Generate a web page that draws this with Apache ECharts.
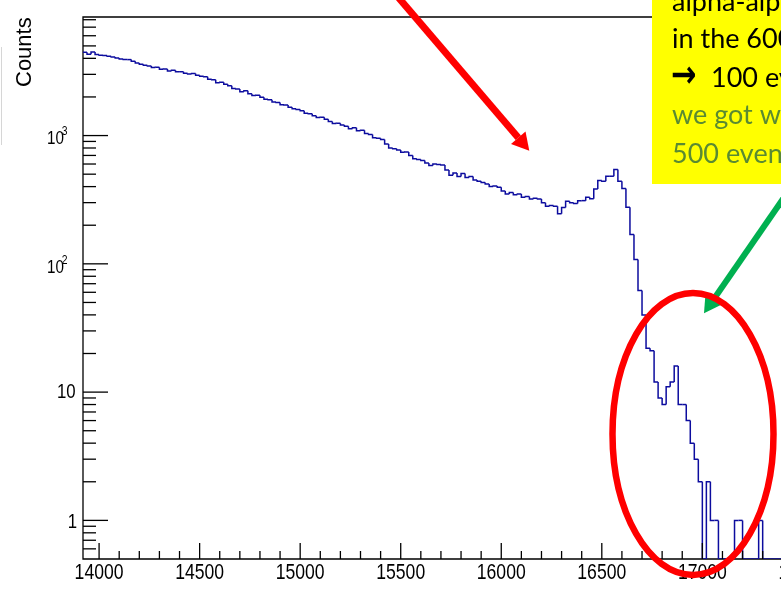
<!DOCTYPE html>
<html>
<head>
<meta charset="utf-8">
<script src="https://cdn.jsdelivr.net/npm/echarts@6/dist/echarts.min.js"></script>
<style>
  html, body { margin: 0; padding: 0; background: #fff; }
  #chart { width: 781px; height: 613px; }
</style>
</head>
<body>
<div id="chart"></div>
<script>
// Energy spectrum: 20-unit bins starting at 13920
const binStart = 13920;
const binWidth = 20;
const counts = [
  4460, 4300, 4490, 4280, 4230, 4200, 4150, 4100, 4030, 3960,
  3910, 3910, 3790, 3680, 3600, 3530, 3480, 3390, 3410, 3290,
  3310, 3180, 3230, 3140, 3150, 3060, 3020, 3040, 2950, 2900,
  2870, 2750, 2720, 2580, 2600, 2510, 2440, 2330, 2310, 2200,
  2240, 2120, 2050, 2060, 1990, 1920, 1900, 1830, 1810, 1740,
  1730, 1660, 1620, 1600, 1560, 1490, 1480, 1430, 1380, 1390,
  1340, 1290, 1240, 1250, 1210, 1180, 1130, 1150, 1090, 1100,
  1040, 1020, 960, 955, 930, 860, 800, 790, 770, 740,
  745, 700, 660, 650, 640, 610, 585, 600, 595, 590,
  540, 490, 510, 480, 505, 470, 480, 450, 440, 430,
  420, 400, 405, 395, 370, 350, 360, 345, 350, 330,
  335, 320, 325, 320, 300, 281, 285, 281, 246, 275,
  308, 300, 295, 311, 311, 330, 321, 384, 446, 440,
  482, 482, 543, 440, 386, 276, 169, 108, 62, 40,
  22, 21, 12, 9, 8, 11, 12, 16, 8, 8,
  6, 4, 3, 2, 0, 2, 1, 1, 0, 0,
  0, 0, 1, 1, 0, 0, 0, 0, 1, 0,
  0, 0, 0, 0, 0, 0, 0, 0, 0, 0,
  0, 0, 0, 0
];

const xRange = [13920, 17600];
const yRange = [0.5, 8400];
const xMajorStep = 500;
const xMinorStep = 100;
const xLabelValues = [14000, 14500, 15000, 15500, 16000, 16500, 17000, 17500];
const yLabelExponents = [0, 1, 2, 3];
const yDecades = [1, 10, 100, 1000];
const yMinorFactors = [2, 3, 4, 5, 6, 7, 8, 9];

const labelFont = '"Liberation Sans", Arial, sans-serif';
const noteFont = '27px Lato, "Open Sans", sans-serif';
const narrow = 0.8;          // horizontal squeeze of the tick-label glyphs
const lineColor = '#000';

// histogram bins: [low edge, high edge, count, previous count]
const histItems = counts.map((c, i) => [
  binStart + i * binWidth,
  binStart + (i + 1) * binWidth,
  c,
  i > 0 ? counts[i - 1] : c
]);

// inward ticks along the bottom axis
const xTickItems = [];
for (let v = Math.ceil(xRange[0] / xMinorStep) * xMinorStep; v <= xRange[1]; v += xMinorStep) {
  xTickItems.push([v, yRange[0], v % xMajorStep === 0 ? 16 : 8]);
}
// log-style ticks along the left axis
const yTickItems = [];
[0.1].concat(yDecades).forEach(d => {
  if (d >= yRange[0]) yTickItems.push([xRange[0], d, 25]);
  yMinorFactors.forEach(f => {
    const v = d * f;
    if (v > yRange[0] && v < yRange[1]) yTickItems.push([xRange[0], v, 13]);
  });
});

const xLabelItems = xLabelValues.map(v => [v, yRange[0]]);
const yLabelItems = yLabelExponents.map(e => [xRange[0], Math.pow(10, e), e]);

function labelText(text, x, y, size, align) {
  return {
    type: 'text', x: x, y: y, scaleX: narrow,
    style: { text: text, font: size + 'px ' + labelFont, fill: '#000', align: align, verticalAlign: 'middle' }
  };
}

const chart = echarts.init(document.getElementById('chart'), null, { renderer: 'canvas' });

const option = {
  animation: false,
  backgroundColor: '#fff',
  grid: {
    left: 83, top: 17, right: -42, bottom: 54,
    outerBoundsMode: 'none', containLabel: false,
    show: true, borderColor: lineColor, borderWidth: 1.3, backgroundColor: 'transparent'
  },
  xAxis: {
    type: 'value',
    min: xRange[0], max: xRange[1],
    axisLine: { show: false },
    axisTick: { show: false },
    splitLine: { show: false },
    axisLabel: { show: false }
  },
  yAxis: {
    type: 'log', logBase: 10,
    min: yRange[0], max: yRange[1],
    axisLine: { show: false },
    axisTick: { show: false },
    splitLine: { show: false },
    axisLabel: { show: false }
  },
  series: [
    {
      name: 'counts',
      type: 'custom',
      coordinateSystem: 'cartesian2d',
      clip: true,
      encode: { x: [0, 1], y: [2, 3] },
      data: histItems,
      renderItem: (params, api) => {
        const x0 = api.value(0), x1 = api.value(1);
        const c = Math.max(api.value(2), yRange[0]);
        const p = Math.max(api.value(3), yRange[0]);
        return {
          type: 'polyline',
          shape: { points: [api.coord([x0, p]), api.coord([x0, c]), api.coord([x1, c])] },
          style: { stroke: '#0c0c9e', lineWidth: 1.5, fill: null }
        };
      },
      z: 3
    },
    {
      name: 'xTicks',
      type: 'custom',
      coordinateSystem: 'cartesian2d',
      encode: { x: 0, y: 1 },
      data: xTickItems,
      silent: true,
      renderItem: (params, api) => {
        const pt = api.coord([api.value(0), api.value(1)]);
        const len = api.value(2);
        return {
          type: 'line',
          shape: { x1: pt[0], y1: pt[1], x2: pt[0], y2: pt[1] - len },
          style: { stroke: lineColor, lineWidth: 1.3 }
        };
      },
      z: 4
    },
    {
      name: 'yTicks',
      type: 'custom',
      coordinateSystem: 'cartesian2d',
      encode: { x: 0, y: 1 },
      data: yTickItems,
      silent: true,
      renderItem: (params, api) => {
        const pt = api.coord([api.value(0), api.value(1)]);
        const len = api.value(2);
        return {
          type: 'line',
          shape: { x1: pt[0], y1: pt[1], x2: pt[0] + len, y2: pt[1] },
          style: { stroke: lineColor, lineWidth: 1.3 }
        };
      },
      z: 4
    },
    {
      name: 'xLabels',
      type: 'custom',
      coordinateSystem: 'cartesian2d',
      encode: { x: 0, y: 1 },
      data: xLabelItems,
      silent: true,
      renderItem: (params, api) => {
        const pt = api.coord([api.value(0), api.value(1)]);
        return labelText(String(api.value(0)), pt[0], pt[1] + 14, 22, 'center');
      },
      z: 4
    },
    {
      name: 'yLabels',
      type: 'custom',
      coordinateSystem: 'cartesian2d',
      encode: { x: 0, y: 1 },
      data: yLabelItems,
      silent: true,
      renderItem: (params, api) => {
        const pt = api.coord([api.value(0), api.value(1)]);
        const e = api.value(2);
        if (e === 0) return labelText('1', pt[0] - 6, pt[1] + 1.7, 21, 'right');
        if (e === 1) return labelText('10', pt[0] - 7.3, pt[1] + 0.5, 21, 'right');
        return {
          type: 'group',
          children: [
            labelText('10', pt[0] - 19, pt[1] + 3.7, 19, 'right'),
            labelText(String(e), pt[0] - 15.5, pt[1] - 3.8, 13, 'right')
          ]
        };
      },
      z: 4
    }
  ],
  graphic: [
    // faint slide edge on the far left
    { type: 'line', shape: { x1: 1.5, y1: 47, x2: 1.5, y2: 145 }, style: { stroke: '#d6d6d6', lineWidth: 1 }, z: 10 },
    // axis title
    {
      type: 'text', x: 24.5, y: 87, rotation: Math.PI / 2, z: 10,
      style: { text: 'Counts', font: '22px ' + labelFont, fill: '#000', align: 'left', verticalAlign: 'middle' }
    },
    // red arrow pointing at the continuum
    { type: 'line', shape: { x1: 392, y1: -10, x2: 518.3, y2: 137.8 }, style: { stroke: '#ff0000', lineWidth: 7 }, z: 20 },
    { type: 'polygon', shape: { points: [[529.3, 150.7], [511.0, 144.0], [525.5, 131.6]] }, style: { fill: '#ff0000' }, z: 20 },
    // note box
    { type: 'rect', shape: { x: 652, y: -2, width: 140, height: 186 }, style: { fill: '#ffff00' }, z: 20 },
    { type: 'text', x: 672, y: 2.5, z: 21, style: { text: 'alpha-alpha', font: noteFont, fill: '#000', verticalAlign: 'middle' } },
    { type: 'text', x: 672, y: 39.5, z: 21, style: { text: 'in the 600', font: noteFont, fill: '#000', verticalAlign: 'middle' } },
    { type: 'text', x: 671, y: 77, z: 21, scaleX: 0.8, style: { text: '\u2192', font: 'bold 38px "DejaVu Sans", sans-serif', fill: '#000', verticalAlign: 'middle' } },
    { type: 'text', x: 711, y: 78, z: 21, style: { text: '100 events', font: noteFont, fill: '#000', verticalAlign: 'middle' } },
    { type: 'text', x: 672, y: 115.5, z: 21, style: { text: 'we got w', font: noteFont, fill: '#5a8a32', verticalAlign: 'middle' } },
    { type: 'text', x: 672, y: 154, z: 21, style: { text: '500 events', font: noteFont, fill: '#5a8a32', verticalAlign: 'middle' } },
    // green arrow into the tail
    { type: 'line', shape: { x1: 795, y1: 181.6, x2: 714.2, y2: 298.5 }, style: { stroke: '#00b050', lineWidth: 6 }, z: 20 },
    { type: 'polygon', shape: { points: [[704, 313.3], [705.6, 292.3], [722.8, 304.1]] }, style: { fill: '#00b050' }, z: 20 },
    // red ellipse around the tail region
    { type: 'ellipse', shape: { cx: 693, cy: 434, rx: 80.5, ry: 141 }, style: { stroke: '#ff0000', lineWidth: 6.5, fill: null }, z: 20 }
  ]
};

chart.setOption(option);
</script>
</body>
</html>
